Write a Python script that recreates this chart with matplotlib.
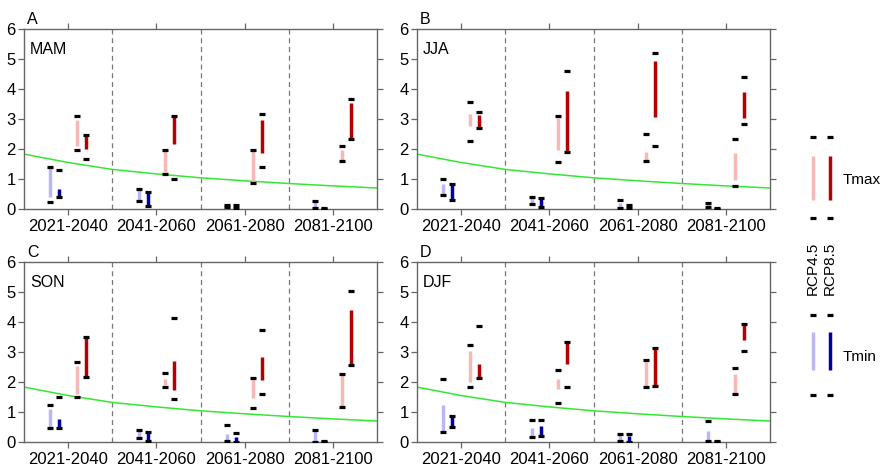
import matplotlib
matplotlib.use("Agg")
import matplotlib.pyplot as plt
import numpy as np

plt.rcParams["font.family"] = ["Liberation Sans", "DejaVu Sans"]

periods = ["2021-2040", "2041-2060", "2061-2080", "2081-2100"]

# threshold curve (green), x in period units 0..4
curve_x = [0.0, 0.5, 1.0, 1.5, 2.0, 2.5, 3.0, 3.5, 4.0]
curve_y = [1.83, 1.55, 1.32, 1.17, 1.04, 0.94, 0.85, 0.77, 0.70]

# each entry per period: (bar_low, bar_high, marker_low, marker_high)
mam_tmin45 = [(0.40, 1.39, 0.22, 1.40), (0.28, 0.64, 0.27, 0.67), (0.09, 0.16, 0.08, 0.15), (0.03, 0.22, 0.03, 0.26)]
mam_tmin85 = [(0.39, 0.67, 0.39, 1.30), (0.09, 0.56, 0.09, 0.57), (0.03, 0.12, 0.03, 0.12), (0.00, 0.02, 0.00, 0.02)]
mam_tmax45 = [(2.11, 2.98, 1.98, 3.09), (1.22, 1.94, 1.17, 1.96), (0.87, 1.96, 0.86, 1.98), (1.64, 1.96, 1.61, 2.11)]
mam_tmax85 = [(2.01, 2.46, 1.66, 2.46), (2.18, 3.07, 1.00, 3.09), (1.87, 2.96, 1.39, 3.16), (2.33, 3.53, 2.34, 3.67)]

jja_tmin45 = [(0.48, 0.83, 0.46, 1.00), (0.20, 0.39, 0.16, 0.41), (0.04, 0.20, 0.04, 0.29), (0.06, 0.18, 0.06, 0.20)]
jja_tmin85 = [(0.31, 0.81, 0.29, 0.83), (0.06, 0.36, 0.06, 0.38), (0.02, 0.13, 0.02, 0.13), (0.00, 0.02, 0.00, 0.02)]
jja_tmax45 = [(2.76, 3.17, 2.28, 3.56), (1.96, 3.03, 1.56, 3.09), (1.58, 1.91, 1.59, 2.50), (0.98, 1.87, 0.76, 2.33)]
jja_tmax85 = [(2.68, 3.14, 2.70, 3.22), (1.90, 3.92, 1.91, 4.59), (3.07, 4.94, 2.09, 5.20), (3.03, 3.89, 2.82, 4.39)]

son_tmin45 = [(0.47, 1.10, 0.47, 1.22), (0.17, 0.38, 0.15, 0.41), (0.04, 0.28, 0.04, 0.57), (0.02, 0.36, 0.01, 0.40)]
son_tmin85 = [(0.47, 0.78, 0.46, 1.50), (0.03, 0.34, 0.04, 0.34), (0.00, 0.17, 0.00, 0.30), (0.00, 0.03, 0.00, 0.02)]
son_tmax45 = [(1.61, 2.54, 1.50, 2.68), (1.89, 2.11, 1.83, 2.31), (1.47, 2.11, 1.14, 2.15), (1.20, 2.23, 1.16, 2.28)]
son_tmax85 = [(2.18, 3.46, 2.18, 3.51), (1.75, 2.70, 1.45, 4.12), (2.07, 2.82, 1.61, 3.75), (2.54, 4.41, 2.56, 5.02)]

djf_tmin45 = [(0.38, 1.23, 0.32, 2.09), (0.17, 0.47, 0.17, 0.72), (0.04, 0.25, 0.04, 0.28), (0.08, 0.38, 0.04, 0.69)]
djf_tmin85 = [(0.47, 0.89, 0.49, 0.88), (0.20, 0.53, 0.20, 0.74), (0.00, 0.19, 0.00, 0.28), (0.00, 0.02, 0.00, 0.02)]
djf_tmax45 = [(2.00, 3.04, 1.83, 3.23), (1.77, 2.09, 1.29, 2.39), (1.83, 2.68, 1.83, 2.74), (1.61, 2.26, 1.61, 2.48)]
djf_tmax85 = [(2.15, 2.61, 2.12, 3.88), (2.61, 3.30, 1.83, 3.34), (1.87, 3.15, 1.87, 3.15), (3.40, 3.90, 3.04, 3.93)]

seasons = ["MAM", "JJA", "SON", "DJF"]
panel_letters = ["A", "B", "C", "D"]
season_data = [
    (mam_tmin45, mam_tmin85, mam_tmax45, mam_tmax85),
    (jja_tmin45, jja_tmin85, jja_tmax45, jja_tmax85),
    (son_tmin45, son_tmin85, son_tmax45, son_tmax85),
    (djf_tmin45, djf_tmin85, djf_tmax45, djf_tmax85),
]

# offsets within each period and colours: Tmin4.5, Tmin8.5, Tmax4.5, Tmax8.5
offsets = [0.30, 0.40, 0.60, 0.70]
colors = ["#b8b8f4", "#0000a8", "#f8b8b8", "#b40000"]
AXIS_GREY = "#666666"

W, H = 883, 469
fig = plt.figure(figsize=(W / 100, H / 100), dpi=100)

panel_px = [(24, 29), (417, 29), (24, 262), (417, 262)]  # left, top in pixels
pw, ph = 353, 180


def draw_panel(ax, data, season, letter):
    for series, off, col in zip(data, offsets, colors):
        for i, (blo, bhi, mlo, mhi) in enumerate(series):
            x = i + off
            ax.plot([x, x], [blo, bhi], color=col, lw=2.5, solid_capstyle="butt", zorder=3)
            ax.plot([x, x], [mlo, mhi], ls="none", marker="_", ms=5, mew=2.3,
                    color="black", zorder=4)

    ax.plot(curve_x, curve_y, color="#33e833", lw=1.1, zorder=2)

    for b in (1, 2, 3):
        ax.axvline(b, color="#777777", lw=0.9, ls=(0, (4, 3)), zorder=1)

    ax.set_xlim(0, 4)
    ax.set_ylim(0, 6)
    ax.set_xticks(np.arange(4) + 0.5)
    ax.set_xticklabels(periods)
    ax.set_yticks(range(7))
    ax.tick_params(direction="out", length=4, width=0.9, color=AXIS_GREY,
                   labelsize=12, top=True, right=True, pad=2)
    ax.tick_params(axis="x", pad=3)
    for s in ax.spines.values():
        s.set_color(AXIS_GREY)
        s.set_linewidth(1.0)

    ax.text(0.017, 0.93, season, transform=ax.transAxes, fontsize=11.5,
            ha="left", va="top")
    ax.text(0.008, 1.01, letter, transform=ax.transAxes, fontsize=11.5,
            ha="left", va="bottom")


for (lx, ty), data, season, letter in zip(panel_px, season_data, seasons, panel_letters):
    ax = fig.add_axes([lx / W, 1 - (ty + ph) / H, pw / W, ph / H])
    draw_panel(ax, data, season, letter)

# legend drawn in pixel space on the right
lg = fig.add_axes([0, 0, 1, 1], zorder=-1)
lg.set_xlim(0, W)
lg.set_ylim(H, 0)
lg.axis("off")

for x, col in ((813, colors[2]), (830, colors[3])):
    lg.plot([x, x], [156, 200], color=col, lw=2.5, solid_capstyle="butt")
    lg.plot([x, x], [137, 218], ls="none", marker="_", ms=4, mew=2.3, color="black")
for x, col in ((813, colors[0]), (830, colors[1])):
    lg.plot([x, x], [332, 370], color=col, lw=2.5, solid_capstyle="butt")
    lg.plot([x, x], [315, 395], ls="none", marker="_", ms=4, mew=2.3, color="black")

lg.text(843, 180, "Tmax", fontsize=11, ha="left", va="center")
lg.text(843, 357, "Tmin", fontsize=11, ha="left", va="center")
lg.text(813, 268, "RCP4.5", fontsize=11, rotation=90, ha="center", va="center")
lg.text(830, 268, "RCP8.5", fontsize=11, rotation=90, ha="center", va="center")

fig.savefig("out.png", dpi=100)
